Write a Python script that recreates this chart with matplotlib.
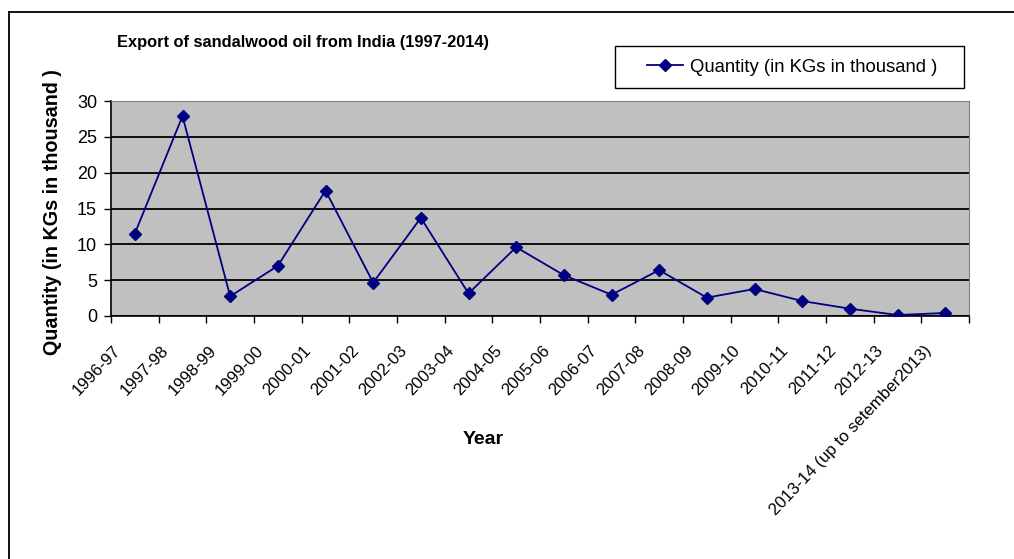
import numpy as np
import matplotlib
matplotlib.use("Agg")
import matplotlib.pyplot as plt
from matplotlib.lines import Line2D
from matplotlib.patches import Rectangle
from matplotlib.transforms import ScaledTranslation

plt.rcParams['font.family'] = ['Liberation Sans', 'DejaVu Sans']

years = ['1996-97', '1997-98', '1998-99', '1999-00', '2000-01', '2001-02',
         '2002-03', '2003-04', '2004-05', '2005-06', '2006-07', '2007-08',
         '2008-09', '2009-10', '2010-11', '2011-12', '2012-13',
         '2013-14 (up to setember2013)']
quantity = [11.5, 27.9, 2.75, 7.0, 17.5, 4.65, 13.7, 3.15, 9.6, 5.7,
            2.97, 6.4, 2.56, 3.77, 2.09, 1.02, 0.14, 0.42]

W, H = 1014, 559
fig = plt.figure(figsize=(W / 100, H / 100), dpi=100)
ax = fig.add_axes([111 / W, 1 - 316 / H, (969 - 111) / W, (316 - 101) / H])
ax.set_facecolor('#C0C0C0')

x = np.arange(len(years))
line, = ax.plot(x, quantity, color='#000080', lw=1.3, marker='D', ms=6.5,
                label='Quantity (in KGs in thousand )', zorder=3)

ax.set_xlim(-0.5, len(years) - 0.5)
ax.set_ylim(0, 30)
ax.set_yticks(np.arange(0, 31, 5))
ax.yaxis.grid(True, color='black', lw=1.3)
ax.set_axisbelow(True)

# Excel-like category axis: ticks between categories, labels at centres
ax.set_xticks(np.arange(-0.5, len(years)), labels=[''] * (len(years) + 1))
ax.set_xticks(x, labels=years, minor=True)
ax.tick_params(axis='x', which='major', direction='out', length=5, width=1, color='black')
ax.tick_params(axis='x', which='minor', length=0, pad=19, labelsize=12.1)
ax.tick_params(axis='y', direction='out', length=5, width=1, labelsize=13, pad=5)
for lbl in ax.get_xticklabels(minor=True):
    lbl.set_rotation(46.5)
    lbl.set_rotation_mode('anchor')
    lbl.set_ha('right')
    lbl.set_va('top')
    lbl.set_transform(lbl.get_transform() + ScaledTranslation(-22 / 100, 0, fig.dpi_scale_trans))

for s in ['top', 'right']:
    ax.spines[s].set_color('#808080')
for s in ['left', 'bottom']:
    ax.spines[s].set_color('black')
    ax.spines[s].set_linewidth(1.2)

fig.text(53 / W, 1 - 212 / H, 'Quantity (in KGs in thousand )', fontsize=14.2,
         fontweight='bold', rotation=90, ha='center', va='center')
fig.text(483 / W, 1 - 439 / H, 'Year', fontsize=14, fontweight='bold', ha='center', va='center')
fig.text(117 / W, 1 - 43 / H, 'Export of sandalwood oil from India (1997-2014)',
         fontsize=11.8, fontweight='bold', ha='left', va='center')

leg = fig.legend(handles=[line], loc='center left', bbox_to_anchor=(647 / W, 1 - 67 / H),
                 fontsize=13.3, frameon=False, handlelength=1.95,
                 handletextpad=0.38, borderpad=0, borderaxespad=0)
fig.add_artist(Rectangle((615 / W, 1 - 88 / H), (964 - 615) / W, 42 / H,
                         transform=fig.transFigure, fill=False, edgecolor='black', lw=1.0))

# chart-area border (top and left visible)
fig.add_artist(Line2D([9 / W, 1], [1 - 12 / H, 1 - 12 / H], color='black', lw=1.3))
fig.add_artist(Line2D([9 / W, 9 / W], [0, 1 - 12 / H], color='black', lw=1.3))

fig.savefig('out.png', dpi=100)
